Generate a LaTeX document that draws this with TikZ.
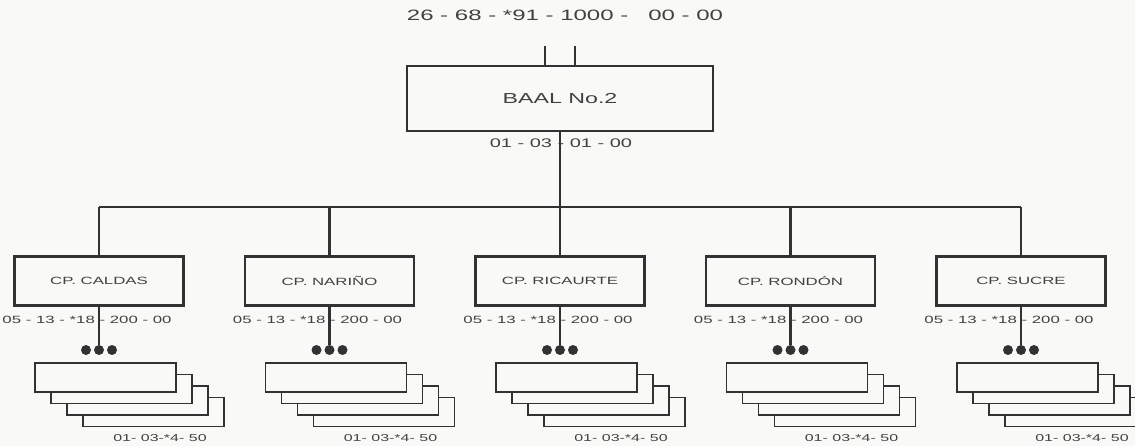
\documentclass[tikz,border=0pt]{standalone}
\usepackage{fontspec}
\setmainfont{Liberation Sans}[FakeStretch=1.6]
\usetikzlibrary{positioning}
\definecolor{ink}{RGB}{50,50,50}
\definecolor{txt}{RGB}{65,65,65}
\definecolor{paper}{RGB}{249,249,247}

\begin{document}
\begin{tikzpicture}[x=1pt,y=-1pt,
  head/.style={draw=ink,line width=2.8pt,minimum width=306pt,minimum height=65pt,inner sep=0pt,text=txt,font=\fontsize{14.5}{17}\selectfont},
  unit/.style={draw=ink,line width=2.6pt,minimum width=169pt,minimum height=49pt,inner sep=0pt,text=txt,font=\fontsize{10.5}{12}\selectfont},
  sheet/.style={draw=ink,line width=1.3pt,fill=paper,minimum width=141pt,minimum height=29pt,inner sep=0pt},
  code/.style={text=txt,inner sep=0pt},
  dot/.style={circle,fill=ink,minimum size=10pt,inner sep=0pt},
  link/.style={draw=ink,line width=2.5pt}]
\fill[paper] (0,0) rectangle (1135,446);
\useasboundingbox (0,0) rectangle (1135,446);

% top unit
\node[code,font=\fontsize{15}{17}\selectfont] (topcode) at (565,15) {26 - 68 - *91 - 1000 -\ \ \ 00 - 00};
\node[head] (baal) at (560,98.5) {BAAL No.2};
\node[code,font=\fontsize{12.5}{14}\selectfont] (baalcode) at (561,143) {01 - 03 - 01 - 00};
\coordinate (in1) at (545,46);
\coordinate (in2) at (575,46);
\draw[link] (in1) -- (in1 |- baal.north);
\draw[link] (in2) -- (in2 |- baal.north);
\coordinate (bus) at (560,207);
\draw[link] (baal.south) -- (bus);

% companies
\foreach \i/\x/\name in {1/99/CALDAS,2/329.5/NARIÑO,3/560/RICAURTE,4/790.5/RONDÓN,5/1021/SUCRE}{
  \node[unit] (cp\i) at (\x,281) {CP. \name};
  \draw[link] (cp\i.north) -- (cp\i.north |- bus);
  \node[code,font=\fontsize{10.5}{12}\selectfont] (cpcode\i) at (\x-12,320) {05 - 13 - *18 - 200 - 00};
  \node[dot] (dl\i) at (\x-13,350) {};
  \node[dot] (dm\i) at (\x,350) {};
  \node[dot] (dr\i) at (\x+13,350) {};
  \draw[link] (cp\i.south) -- (dm\i);
  \node[sheet] (sh\i d) at (\x+54.5,412) {};
  \node[sheet] (sh\i c) at (\x+38.5,400.5) {};
  \node[sheet] (sh\i b) at (\x+22.5,389) {};
  \node[sheet] (sh\i a) at (\x+6.5,377.5) {};
  \node[code,font=\fontsize{10}{11}\selectfont] (shcode\i) at (\x+61,438) {01- 03-*4- 50};
}
\draw[link] (cp1.north |- bus) -- (cp5.north |- bus);
\end{tikzpicture}
\end{document}
